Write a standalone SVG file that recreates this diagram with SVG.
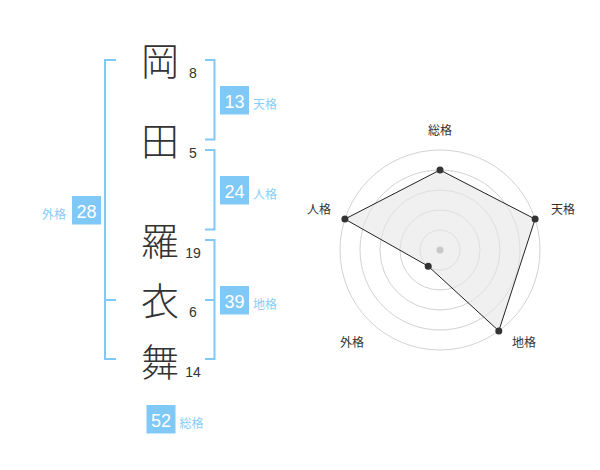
<svg xmlns="http://www.w3.org/2000/svg" width="600" height="470" viewBox="0 0 600 470">
<style>
.kanji{font-family:"Noto Sans CJK JP","Noto Sans CJK SC",sans-serif;font-size:38px;font-weight:300;fill:#333;text-anchor:middle}
.num{font-family:"Liberation Sans",Arial,sans-serif;font-size:14px;fill:#333;text-anchor:middle}
.br{fill:none;stroke:#80c9f7;stroke-width:2}
.box{fill:#80c9f7}
.bt{font-family:"Liberation Sans",Arial,sans-serif;font-size:18px;fill:#fff;text-anchor:middle}
.lab{font-family:"Noto Sans CJK JP","Noto Sans CJK SC",sans-serif;font-size:12px;fill:#86cdf8}
.ring{fill:none;stroke:#d2d2d2;stroke-width:1}
.rl{font-family:"Noto Sans CJK JP","Noto Sans CJK SC",sans-serif;font-size:12px;fill:#333;text-anchor:middle}
.pt{fill:#333}
</style>
<rect width="600" height="470" fill="#fff"/>
<g id="connectors">
<path class="br" d="M116,60 H105 V359 H116 M105,300 H116"/>
<path class="br" d="M205,60 H214.5 V139.5 H205"/>
<path class="br" d="M205,150 H214.5 V229.5 H205"/>
<path class="br" d="M205,240 H214.5 V359 H205 M205,300 H214.5"/>
</g>
<g id="name">
<g id="c1"><text class="kanji" x="160" y="75">岡</text><text class="num" x="193" y="77.7">8</text></g>
<g id="c2"><text class="kanji" x="160" y="155">田</text><text class="num" x="193" y="158">5</text></g>
<g id="c3"><text class="kanji" x="160" y="255">羅</text><text class="num" x="193" y="257.7">19</text></g>
<g id="c4"><text class="kanji" x="160" y="315">衣</text><text class="num" x="193" y="316.7">6</text></g>
<g id="c5"><text class="kanji" x="160" y="376">舞</text><text class="num" x="193" y="376.7">14</text></g>
</g>
<g id="tenkaku"><rect class="box" x="220" y="86" width="29" height="28.5"/><text class="bt" x="234.5" y="108.3">13</text><text class="lab" x="253" y="108.5">天格</text></g>
<g id="jinkaku"><rect class="box" x="220" y="176" width="29" height="28.5"/><text class="bt" x="234.5" y="198.3">24</text><text class="lab" x="253" y="198.5">人格</text></g>
<g id="chikaku"><rect class="box" x="220" y="286" width="29" height="28.5"/><text class="bt" x="234.5" y="308.3">39</text><text class="lab" x="253" y="308.5">地格</text></g>
<g id="gaikaku"><rect class="box" x="72" y="196" width="29" height="28.5"/><text class="bt" x="86.5" y="218.3">28</text><text class="lab" x="66" y="218.5" text-anchor="end">外格</text></g>
<g id="soukaku"><rect class="box" x="146.5" y="405" width="29" height="28.5"/><text class="bt" x="161" y="427.3">52</text><text class="lab" x="179.5" y="427.5">総格</text></g>
<g id="radar">
<circle class="ring" cx="440" cy="250" r="20"/>
<circle class="ring" cx="440" cy="250" r="40"/>
<circle class="ring" cx="440" cy="250" r="60"/>
<circle class="ring" cx="440" cy="250" r="80"/>
<circle class="ring" cx="440" cy="250" r="100"/>
<polygon points="440,170 535.1,219.1 498.8,330.9 428.2,266.2 344.9,219.1" fill="#e6e6e6" fill-opacity="0.6" stroke="#222" stroke-width="1"/>
<circle cx="440" cy="250" r="3.5" fill="#c8c8c8"/>
<circle class="pt" cx="440" cy="170" r="3.5"/>
<circle class="pt" cx="535.1" cy="219.1" r="3.5"/>
<circle class="pt" cx="498.8" cy="330.9" r="3.5"/>
<circle class="pt" cx="428.2" cy="266.2" r="3.5"/>
<circle class="pt" cx="344.9" cy="219.1" r="3.5"/>
<text class="rl" x="440" y="135">総格</text>
<text class="rl" x="563" y="213.5">天格</text>
<text class="rl" x="524" y="346.5">地格</text>
<text class="rl" x="352" y="346.5">外格</text>
<text class="rl" x="319" y="213.5">人格</text>
</g>
</svg>
